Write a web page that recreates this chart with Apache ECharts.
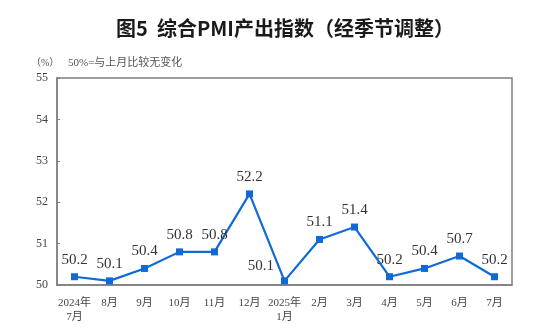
<!DOCTYPE html>
<html>
<head>
<meta charset="utf-8">
<script src="https://cdn.jsdelivr.net/npm/echarts@6/dist/echarts.min.js"></script>
<style>html,body{margin:0;padding:0;background:#fff}#c{width:554px;height:333px}</style>
</head>
<body>
<div id="c"></div>
<script>
// Composite PMI output index, seasonally adjusted, Jul 2024 – Jul 2025
var months = ['2024年\n7月', '8月', '9月', '10月', '11月', '12月', '2025年\n1月', '2月', '3月', '4月', '5月', '6月', '7月'];
var pmiValues = [50.2, 50.1, 50.4, 50.8, 50.8, 52.2, 50.1, 51.1, 51.4, 50.2, 50.4, 50.7, 50.2];
var yTicks = [50, 51, 52, 53, 54, 55];

var serif = '"Liberation Serif", "Noto Sans CJK SC", serif';
var axisColor = '#7f7f7f';

var seriesData = pmiValues.map(function (v, i) {
  var item = { value: v };
  if (i === 6) {
    // January 2025 label sits to the upper left of its point
    item.label = { position: 'left', offset: [-1, -15] };
  }
  return item;
});

var chart = echarts.init(document.getElementById('c'));
chart.setOption({
  animation: false,
  title: [{
    text: '图5  综合PMI产出指数（经季节调整）',
    left: 280, top: 13, textAlign: 'center',
    textStyle: { fontFamily: '"Noto Sans CJK SC", sans-serif', fontSize: 20, fontWeight: 'bold', color: '#1a1a1a' }
  }, {
    text: '（%）',
    left: 26, top: 53,
    textStyle: { fontFamily: serif, fontSize: 10, fontWeight: 'normal', color: '#555' }
  }, {
    text: '50%=与上月比较无变化',
    left: 63, top: 53,
    textStyle: { fontFamily: serif, fontSize: 11, fontWeight: 'normal', color: '#555' }
  }],
  grid: { left: 57, right: 42, top: 78, bottom: 48, show: true, borderColor: axisColor, borderWidth: 1.5 },
  xAxis: {
    type: 'category',
    data: months,
    boundaryGap: true,
    axisLine: { lineStyle: { color: axisColor, width: 1.5 } },
    axisTick: { inside: true, length: 4, lineStyle: { color: axisColor } },
    axisLabel: { fontFamily: serif, fontSize: 11, color: '#444', margin: 11, lineHeight: 14, interval: 0 }
  },
  yAxis: {
    type: 'value',
    min: yTicks[0], max: yTicks[yTicks.length - 1], interval: 1,
    axisLine: { show: true, lineStyle: { color: axisColor, width: 1.5 } },
    axisTick: { show: true, inside: true, length: 3, lineStyle: { color: axisColor } },
    splitLine: { show: false },
    axisLabel: { fontFamily: serif, fontSize: 12, color: '#444', margin: 9 }
  },
  series: [{
    type: 'line',
    data: seriesData,
    symbol: 'rect',
    symbolSize: 7,
    lineStyle: { color: '#0f6ad6', width: 2.2 },
    itemStyle: { color: '#0f6ad6' },
    label: {
      show: true, position: 'top', distance: 6,
      fontFamily: serif, fontSize: 15, color: '#333',
      formatter: function (p) { return p.value.toFixed(1); }
    }
  }]
});
</script>
</body>
</html>
